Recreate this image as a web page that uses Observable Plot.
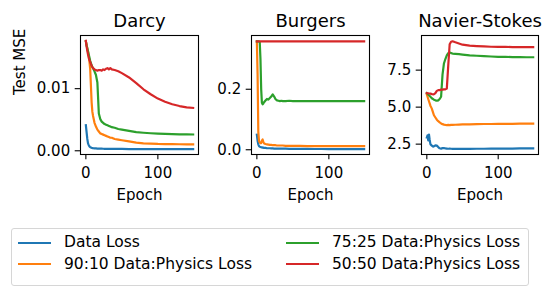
<!DOCTYPE html>
<html><head><meta charset="utf-8">
<script src="https://cdn.jsdelivr.net/npm/d3@7"></script>
<script src="https://cdn.jsdelivr.net/npm/@observablehq/plot@0.6"></script>
<style>
body{margin:0;background:#fff;font-family:"DejaVu Sans",sans-serif;}
#root{position:relative;width:556px;height:291px;overflow:hidden;background:#fff;}
.panel{position:absolute;top:0;}
#legend{position:absolute;left:11px;top:228px;width:518px;height:58px;box-sizing:border-box;border:1px solid #d6d6d6;border-radius:3px;}
.entry{position:absolute;height:0;}
.swatch{position:absolute;width:33px;height:2.2px;}
.label{position:absolute;font-size:15.5px;line-height:16px;white-space:nowrap;color:#000;}
</style></head><body><div id="root"></div>
<script>
const epochs = [0,1,2,3,4,5,6,7,8,9,10,12,14,16,18,20,22,24,26,28,30,32,34,36,40,45,50,60,70,80,90,100,110,120,130,140,149];
const seriesNames = ["Data Loss","90:10 Data:Physics Loss","75:25 Data:Physics Loss","50:50 Data:Physics Loss"];
const seriesColors = ["#1f77b4","#ff7f0e","#2ca02c","#d62728"];
const datasetNames = ["Darcy","Burgers","Navier-Stokes"];

const darcyData = [0.0041,0.0030,0.0019,0.0012,0.0009,0.0007,0.0006,0.00052,0.00047,0.00044,0.00042,
  0.0004,0.00038,0.00036,0.00035,0.00034,0.00034,0.00033,0.00032,0.00032,0.00031,0.00031,0.0003,0.0003,
  0.0003,0.00029,0.00029,0.00028,0.00028,0.00027,0.00027,0.00027,0.00026,0.00026,0.00026,0.00026,0.00026];
const darcy90 = [0.0176,0.0170,0.0165,0.0160,0.0152,0.0143,0.0132,0.0105,0.0078,0.0063,0.0056,
  0.0045,0.0039,0.0034,0.0031,0.0028,0.0027,0.0026,0.0025,0.0024,0.0023,0.0022,0.0021,0.0021,
  0.0019,0.0018,0.0017,0.0015,0.0013,0.0012,0.00115,0.0011,0.00108,0.00106,0.00105,0.00104,0.00103];
const darcy75 = [0.0176,0.0170,0.0165,0.0160,0.0155,0.0150,0.0145,0.0141,0.0138,0.0135,0.0133,
  0.0128,0.0122,0.0110,0.0060,0.0051,0.0047,0.0045,0.0043,0.0042,0.0041,0.0040,0.0039,0.0038,
  0.0037,0.0035,0.0034,0.0032,0.0030,0.0029,0.00282,0.00276,0.00271,0.00268,0.00265,0.00263,0.00262];
const darcy50 = [0.0177,0.0168,0.0161,0.0155,0.0150,0.0146,0.0143,0.0140,0.0137,0.0135,0.0133,
  0.0131,0.0130,0.0129,0.0130,0.0130,0.0129,0.0131,0.0130,0.0132,0.0133,0.0131,0.0133,0.0131,
  0.0130,0.0128,0.0125,0.0118,0.0109,0.0099,0.0091,0.0084,0.0079,0.0075,0.0072,0.0070,0.0069];

const burgersData = [0.050,0.030,0.018,0.012,0.010,0.009,0.008,0.008,0.007,0.007,0.006,
  0.006,0.005,0.005,0.005,0.0045,0.0045,0.004,0.004,0.004,0.0038,0.0037,0.0036,0.0035,
  0.0034,0.0032,0.003,0.0028,0.0026,0.0025,0.0024,0.0023,0.0022,0.0022,0.0021,0.0021,0.002];
const burgers90 = [0.358,0.25,0.06,0.028,0.024,0.022,0.022,0.030,0.034,0.026,0.021,
  0.019,0.018,0.017,0.016,0.016,0.015,0.015,0.015,0.014,0.014,0.014,0.014,0.014,
  0.013,0.013,0.013,0.013,0.012,0.012,0.012,0.012,0.012,0.012,0.012,0.012,0.012];
const burgers75 = [0.358,0.358,0.358,0.358,0.355,0.30,0.20,0.155,0.150,0.153,0.157,
  0.163,0.168,0.166,0.171,0.176,0.183,0.176,0.167,0.163,0.162,0.161,0.162,0.161,
  0.161,0.162,0.161,0.161,0.161,0.161,0.161,0.161,0.161,0.161,0.161,0.161,0.161];
const burgers50 = [0.358,0.358,0.358,0.358,0.358,0.358,0.358,0.358,0.358,0.358,0.358,
  0.358,0.358,0.358,0.358,0.358,0.358,0.358,0.358,0.358,0.358,0.358,0.358,0.358,
  0.358,0.358,0.358,0.358,0.358,0.358,0.358,0.358,0.358,0.358,0.358,0.358,0.358];

const nsData = [2.95,3.1,2.75,3.15,2.8,2.5,2.45,2.4,2.36,2.33,2.36,
  2.42,2.4,2.3,2.22,2.2,2.23,2.24,2.21,2.2,2.19,2.2,2.19,2.18,
  2.18,2.19,2.18,2.18,2.19,2.19,2.2,2.2,2.2,2.2,2.21,2.21,2.21];
const ns90 = [5.85,5.7,5.55,5.4,5.25,5.1,5.0,4.9,4.75,4.6,4.45,
  4.3,4.15,4.05,3.97,3.9,3.85,3.82,3.8,3.79,3.8,3.78,3.8,3.8,
  3.81,3.82,3.83,3.84,3.85,3.86,3.86,3.87,3.87,3.87,3.88,3.88,3.88];
const ns75 = [5.95,5.9,5.85,5.8,5.75,5.7,5.65,5.6,5.57,5.54,5.5,
  5.46,5.43,5.46,5.55,5.7,7.2,7.95,8.25,8.5,8.65,8.7,8.65,8.62,
  8.6,8.58,8.55,8.5,8.47,8.45,8.42,8.4,8.4,8.38,8.38,8.37,8.37];
const ns50 = [5.95,5.94,5.93,5.92,5.92,5.91,5.9,5.88,5.87,5.86,5.87,
  5.95,6.1,6.15,6.15,6.18,6.18,6.2,6.2,6.25,7.8,9.25,9.42,9.45,
  9.38,9.3,9.22,9.15,9.12,9.1,9.08,9.07,9.07,9.06,9.06,9.05,9.05];

const xTicks = [0,100];
const darcyTicks = [0,0.01];
const burgersTicks = [0,0.2];
const nsTicks = [2.5,5,7.5];

const panels = [
  {title: datasetNames[0], series: [darcyData,darcy90,darcy75,darcy50], yDomain:[-0.0006,0.01856], yTicks: darcyTicks, fmt: d3.format(".2f"), ylabel: "Test MSE",
   left: 0, width: 200, marginLeft: 80, marginRight: 2},
  {title: datasetNames[1], series: [burgersData,burgers90,burgers75,burgers50], yDomain:[-0.0157,0.3777], yTicks: burgersTicks, fmt: d3.format(".1f"), ylabel: null,
   left: 200, width: 171, marginLeft: 51, marginRight: 2},
  {title: datasetNames[2], series: [nsData,ns90,ns75,ns50], yDomain:[1.80,9.84], yTicks: nsTicks, fmt: d3.format(".1f"), ylabel: null,
   left: 371, width: 185, marginLeft: 50, marginRight: 18}
];

const root = document.getElementById("root");
const font = "DejaVu Sans";

for (const p of panels) {
  const rows = [];
  p.series.forEach((vals, si) => {
    vals.forEach((v, i) => rows.push({epoch: epochs[i], value: v, series: seriesNames[si]}));
  });
  const marks = [
    Plot.line(rows, {x: "epoch", y: "value", z: "series", stroke: "series", strokeWidth: 2.2, strokeLinejoin: "round", strokeLinecap: "square"}),
    Plot.frame({stroke: "black", strokeWidth: 1.1}),
    Plot.axisX({ticks: xTicks, tickFormat: d => String(d), tickSize: 5.3, tickPadding: 8, fontSize: 15, label: null, strokeWidth: 1.1}),
    Plot.axisY({ticks: p.yTicks, tickFormat: p.fmt, tickSize: 5.3, tickPadding: 5, fontSize: 15, label: null, strokeWidth: 1.1}),
    Plot.text([p.title], {frameAnchor: "top", dy: -9, lineAnchor: "bottom", fontSize: 18, fill: "black"}),
    Plot.text(["Epoch"], {frameAnchor: "bottom", dy: 45, lineAnchor: "bottom", fontSize: 15, fill: "black"})
  ];
  if (p.ylabel) {
    marks.push(Plot.text([p.ylabel], {frameAnchor: "left", dx: -60, rotate: -90, lineAnchor: "middle", fontSize: 15, fill: "black"}));
  }
  const svg = Plot.plot({
    width: p.width, height: 215,
    marginLeft: p.marginLeft, marginRight: p.marginRight, marginTop: 35, marginBottom: 61,
    x: {domain: [-7.45, 156.45]},
    y: {domain: p.yDomain},
    color: {domain: seriesNames, range: seriesColors},
    style: {fontFamily: font, fontSize: "15px", color: "black", background: "transparent", overflow: "visible"},
    marks
  });
  svg.classList.add("panel");
  svg.style.left = p.left + "px";
  root.appendChild(svg);
}

// legend (two columns, filled column by column like matplotlib ncol=2)
const legend = document.createElement("div");
legend.id = "legend";
root.appendChild(legend);
const colX = [6, 274];
const rowY = [13.7, 35.3];
seriesNames.forEach((name, si) => {
  const col = si < 2 ? 0 : 1;
  const row = si % 2;
  const e = document.createElement("div");
  e.className = "entry";
  e.style.left = colX[col] + "px";
  e.style.top = rowY[row] + "px";
  const sw = document.createElement("div");
  sw.className = "swatch";
  sw.style.background = seriesColors[si];
  sw.style.left = "0px";
  sw.style.top = "-1.1px";
  const lb = document.createElement("div");
  lb.className = "label";
  lb.textContent = name;
  lb.style.left = "46px";
  lb.style.top = "-8.5px";
  e.appendChild(sw);
  e.appendChild(lb);
  legend.appendChild(e);
});
</script>
</body></html>
